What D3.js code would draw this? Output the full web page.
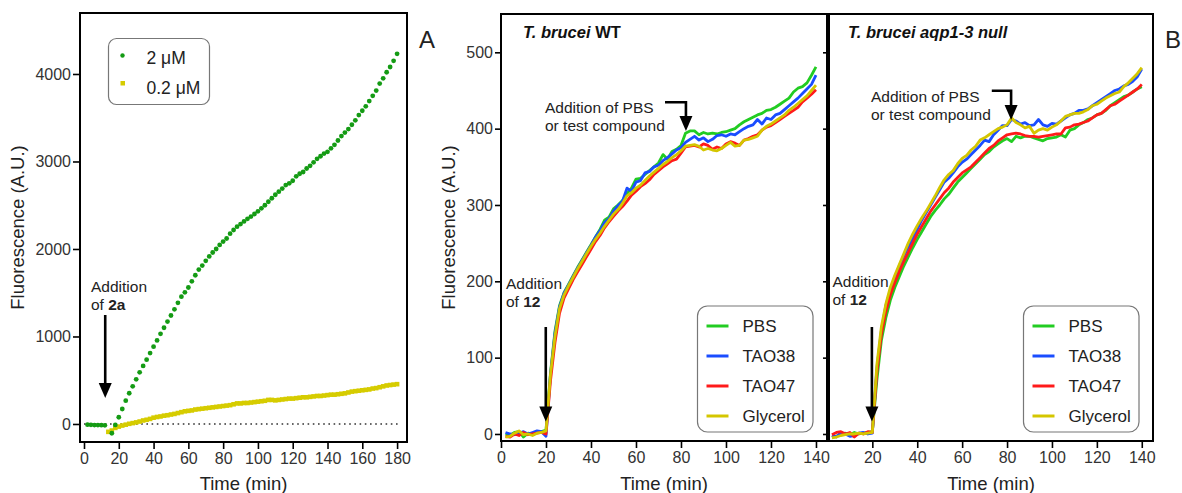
<!DOCTYPE html>
<html>
<head>
<meta charset="utf-8">
<script src="https://cdn.jsdelivr.net/npm/d3@7"></script>
<style>
  body { margin: 0; background: #fff; }
  svg { font-family: "Liberation Sans", Arial, Helvetica, sans-serif; font-weight: normal; }
</style>
</head>
<body>
<div id="chart"></div>
<script>
// ---- Panel A data : fluorescence of 2a at two concentrations ----
var timeA_2uM = [2, 4, 6, 8, 10, 12].concat(d3.range(16, 181, 2));
var fluo_2uM = [
  -8, -10, -12, -12, -14, -15,
  -106, -11, 77, 171, 266, 351, 430, 510, 590, 663,
  735, 810, 884, 955, 1030, 1100, 1170, 1240, 1310, 1385,
  1455, 1505, 1560, 1630, 1700, 1765, 1810, 1865, 1915, 1960,
  2000, 2046, 2085, 2120, 2175, 2217, 2255, 2285, 2315, 2345,
  2370, 2400, 2430, 2465, 2500, 2540, 2580, 2620, 2655, 2690,
  2730, 2750, 2780, 2830, 2860, 2880, 2920, 2950, 2990, 3030,
  3060, 3090, 3110, 3150, 3190, 3240, 3290, 3330, 3370, 3420,
  3470, 3530, 3580, 3630, 3690, 3750, 3810, 3890, 3950, 4020,
  4080, 4150, 4230
];
var timeA_02uM = d3.range(14, 181, 2);
var fluo_02uM = [
  -90, -75, -45, -30, -18, -8, 2, 10, 18, 28,
  40, 48, 58, 72, 80, 86, 95, 100, 108, 115,
  125, 135, 145, 150, 155, 165, 170, 175, 180, 185,
  190, 195, 200, 205, 210, 215, 225, 235, 235, 240,
  240, 245, 250, 255, 260, 265, 275, 275, 270, 275,
  280, 285, 290, 290, 295, 300, 305, 305, 310, 315,
  320, 320, 325, 330, 335, 335, 340, 345, 350, 360,
  370, 375, 380, 385, 390, 395, 405, 410, 420, 430,
  440, 445, 450, 455
];
var ticksA_x = [0, 20, 40, 60, 80, 100, 120, 140, 160, 180];
var ticksA_y = [0, 1000, 2000, 3000, 4000];

// ---- Panel B data : T. brucei WT and aqp1-3 null ----
var timeB = d3.range(2, 141, 2);
var seriesB = ["PBS", "TAO38", "TAO47", "Glycerol"];
var colorsB = ["#22cc22", "#1a4dff", "#ff1a1a", "#d4c600"];

var wt_PBS = [
  0, -2, 2, 3, -4, 1, 0, 2, 3, 5,
  80, 135, 168, 185, 196, 207, 218, 228, 238, 248,
  258, 268, 280, 284, 295, 300, 306, 315, 322, 334,
  335, 340, 345, 350, 355, 366, 360, 370, 373, 378,
  394, 397, 397, 392, 395, 393, 394, 393, 395, 396,
  398, 400, 405, 409, 412, 415, 418, 420, 424, 425,
  428, 432, 436, 440, 448, 453, 455, 460, 470, 481
];
var wt_TAO38 = [
  2, 0, -1, 1, 3, 0, 2, 4, 3, -3,
  78, 132, 166, 184, 195, 206, 217, 227, 237, 247,
  258, 266, 277, 282, 292, 299, 305, 322, 318, 330,
  332, 342, 344, 350, 352, 358, 362, 367, 372, 375,
  382, 386, 390, 385, 388, 383, 386, 391, 392, 390,
  393, 392, 396, 400, 403, 405, 412, 406, 414, 412,
  418, 420, 425, 430, 435, 440, 446, 452, 458, 470
];
var wt_TAO47 = [
  -3, -4, 0, -2, 2, -1, 0, 1, 2, 0,
  70, 120, 158, 178, 190, 202, 212, 222, 232, 242,
  252, 260, 270, 278, 285, 292, 298, 305, 313, 318,
  324, 328, 333, 340, 345, 350, 354, 358, 360, 368,
  376, 377, 378, 376, 380, 378, 373, 376, 374, 380,
  383, 381, 378, 385, 387, 390, 392, 398, 402, 404,
  408, 412, 416, 420, 424, 428, 435, 440, 445, 451
];
var wt_Glycerol = [
  -4, -3, 1, 4, -1, 0, -2, 1, 2, 4,
  78, 128, 164, 182, 194, 205, 216, 226, 236, 246,
  255, 263, 272, 280, 288, 294, 302, 312, 316, 322,
  326, 332, 338, 343, 348, 353, 357, 362, 366, 371,
  377, 378, 379, 377, 372, 374, 372, 371, 374, 378,
  382, 377, 378, 385, 386, 388, 390, 398, 403, 406,
  410, 414, 418, 424, 428, 433, 438, 443, 450, 457
];

var null_PBS = [
  -4, -3, 0, 1, -1, 2, 0, 1, 2, 3,
  70, 122, 152, 175, 192, 206, 220, 232, 244, 255,
  265, 275, 285, 293, 300, 308, 314, 322, 330, 336,
  342, 348, 354, 360, 366, 370, 376, 380, 384, 387,
  383, 390, 388, 390, 390, 388, 386, 384, 387, 388,
  389, 392, 389, 398, 400, 405, 408, 412, 414, 418,
  420, 424, 430, 434, 438, 442, 444, 448, 452, 455
];
var null_TAO38 = [
  -2, -4, 2, 0, -3, -2, 1, 2, 0, 1,
  85, 135, 168, 188, 205, 220, 233, 245, 256, 268,
  280, 290, 300, 310, 320, 330, 335, 342, 350, 356,
  360, 366, 372, 378, 385, 383, 392, 398, 404, 404,
  412, 410, 406, 408, 404, 405, 412, 405, 403, 407,
  406, 410, 414, 418, 420, 424, 424, 426, 430, 434,
  438, 442, 446, 450, 452, 456, 458, 462, 468, 478
];
var null_TAO47 = [
  -1, 2, 3, 0, 2, -4, 1, 0, 3, 2,
  80, 130, 160, 182, 198, 213, 226, 238, 250, 262,
  272, 282, 292, 300, 308, 316, 322, 330, 336, 342,
  346, 350, 356, 362, 368, 374, 378, 384, 388, 392,
  393, 394, 393, 391, 390, 390, 389, 390, 391, 392,
  393, 393, 401, 402, 405, 406, 408, 410, 414, 418,
  420, 425, 430, 432, 436, 440, 444, 448, 452, 458
];
var null_Glycerol = [
  -5, -4, -2, -1, 0, 0, 1, 0, 1, 2,
  90, 140, 170, 192, 208, 222, 236, 250, 262, 273,
  283, 292, 302, 312, 323, 333, 340, 345, 354, 361,
  365, 372, 377, 385, 388, 392, 396, 400, 402, 405,
  414, 408, 405, 401, 403, 394, 398, 400, 398, 402,
  405, 410, 416, 418, 420, 420, 422, 425, 430, 432,
  436, 440, 443, 446, 448, 455, 460, 466, 472, 480
];
var ticksB_x = [0, 20, 40, 60, 80, 100, 120, 140];
var ticksB_y = [0, 100, 200, 300, 400, 500];

// ---- SVG ----
var svg = d3.select("#chart").append("svg")
  .attr("width", 1182)
  .attr("height", 493);

// clean up a d3 axis so it looks like the original figure
function styleAxis(g) {
  g.select(".domain").remove();
  g.selectAll(".tick line").attr("stroke", "#000").attr("stroke-width", 1.6);
  g.selectAll(".tick text").attr("fill", "#333").style("font-size", "16px");
}

// filled arrow: polyline through pts, head pointing down at the last point
function arrow(g, pts) {
  var tip = pts[pts.length - 1];
  var shaft = pts.slice(0, -1).concat([[tip[0], tip[1] - 12]]);
  g.append("path")
    .attr("d", d3.line()(shaft))
    .attr("fill", "none")
    .attr("stroke", "#000")
    .attr("stroke-width", 2.6);
  g.append("path")
    .attr("d", "M" + (tip[0] - 6.5) + "," + (tip[1] - 15) + "L" + (tip[0] + 6.5) + "," + (tip[1] - 15) + "L" + tip[0] + "," + tip[1] + "Z")
    .attr("fill", "#000");
}

function twoLineText(g, x, y, first, second, boldPart) {
  var t1 = g.append("text").attr("x", x).attr("y", y)
    .style("font-size", "15.5px").attr("fill", "#222").text(first);
  var t2 = g.append("text").attr("x", x).attr("y", y + 18)
    .style("font-size", "15.5px").attr("fill", "#222");
  t2.append("tspan").text(second);
  if (boldPart) t2.append("tspan").style("font-weight", "bold").text(boldPart);
}

// ================= Panel A =================
var xA = d3.scaleLinear().domain([-2.3, 185.7]).range([80, 407]);
var yA = d3.scaleLinear().domain([-206, 4697]).range([442, 13]);

var gA = svg.append("g");

gA.append("g")
  .attr("transform", "translate(0,442)")
  .call(d3.axisBottom(xA).tickValues(ticksA_x).tickSize(7).tickPadding(4).tickSizeOuter(0))
  .call(styleAxis);

gA.append("g")
  .attr("transform", "translate(80,0)")
  .call(d3.axisLeft(yA).tickValues(ticksA_y).tickFormat(d3.format("d")).tickSize(7).tickPadding(2).tickSizeOuter(0))
  .call(styleAxis);

// dotted baseline at zero
gA.append("line")
  .attr("x1", xA(0)).attr("x2", xA(182))
  .attr("y1", yA(0)).attr("y2", yA(0))
  .attr("stroke", "#333").attr("stroke-width", 1.6)
  .attr("stroke-dasharray", "1.6,3.6");

// 0.2 uM : small yellow squares
gA.selectAll(".sq")
  .data(fluo_02uM)
  .enter().append("rect")
  .attr("class", "sq")
  .attr("x", function(d, i) { return xA(timeA_02uM[i]) - 2.3; })
  .attr("y", function(d) { return yA(d) - 2.3; })
  .attr("width", 4.6).attr("height", 4.6)
  .attr("fill", "#d6cc00");

// 2 uM : green dots
gA.selectAll(".dot")
  .data(fluo_2uM)
  .enter().append("circle")
  .attr("class", "dot")
  .attr("cx", function(d, i) { return xA(timeA_2uM[i]); })
  .attr("cy", function(d) { return yA(d); })
  .attr("r", 2.4)
  .attr("fill", "#149b14");

gA.append("rect")
  .attr("x", 80).attr("y", 13).attr("width", 327).attr("height", 429)
  .attr("fill", "none").attr("stroke", "#000").attr("stroke-width", 2);

// legend A
var legA = gA.append("g").attr("transform", "translate(108.5,38.5)");
legA.append("rect")
  .attr("width", 101).attr("height", 66).attr("rx", 8)
  .attr("fill", "#fff").attr("stroke", "#777").attr("stroke-width", 1.2);
legA.append("circle").attr("cx", 14).attr("cy", 17).attr("r", 2.2).attr("fill", "#149b14");
legA.append("rect").attr("x", 12).attr("y", 42.5).attr("width", 4.5).attr("height", 4.5).attr("fill", "#d6cc00");
legA.append("text").attr("x", 38).attr("y", 25.5).style("font-size", "17.5px").attr("fill", "#222").text("2 \u03bcM");
legA.append("text").attr("x", 38).attr("y", 55).style("font-size", "17.5px").attr("fill", "#222").text("0.2 \u03bcM");

twoLineText(gA, 91, 291.5, "Addition", "of ", "2a");
arrow(gA, [[xA(12.2), 315], [xA(12.2), 398]]);

gA.append("text")
  .attr("transform", "translate(18,227.5) rotate(-90)")
  .attr("text-anchor", "middle").attr("dy", "0.35em")
  .style("font-size", "18.5px").attr("fill", "#222")
  .text("Fluorescence (A.U.)");
gA.append("text")
  .attr("x", 243.5).attr("y", 489.5).attr("text-anchor", "middle")
  .style("font-size", "18.5px").attr("fill", "#222")
  .text("Time (min)");
gA.append("text").attr("x", 419).attr("y", 48).style("font-size", "24px").attr("fill", "#222").text("A");

// ================= Panel B =================
var yB = d3.scaleLinear().domain([-9.2, 550.2]).range([441, 14]);

var plotsB = [
  { left: 501, right: 827, domain: [0, 144.9], ticks: ticksB_x, labels: true,
    data: [wt_PBS, wt_TAO38, wt_TAO47, wt_Glycerol] },
  { left: 829, right: 1153, domain: [0.7, 145.0], ticks: ticksB_x.slice(1), labels: false,
    data: [null_PBS, null_TAO38, null_TAO47, null_Glycerol] }
];

plotsB.forEach(function(p) {
  var x = d3.scaleLinear().domain(p.domain).range([p.left, p.right]);
  p.x = x;
  var g = svg.append("g");
  p.g = g;

  g.append("g")
    .attr("transform", "translate(0,441)")
    .call(d3.axisBottom(x).tickValues(p.ticks).tickSize(7).tickPadding(4).tickSizeOuter(0))
    .call(styleAxis);

  var yAxis = d3.axisLeft(yB).tickValues(ticksB_y).tickSize(6).tickPadding(2).tickSizeOuter(0);
  if (!p.labels) yAxis.tickFormat("");
  g.append("g")
    .attr("transform", "translate(" + p.left + ",0)")
    .call(yAxis)
    .call(styleAxis);

  var line = d3.line()
    .x(function(d, i) { return x(timeB[i]); })
    .y(function(d) { return yB(d); });

  g.selectAll(".trace")
    .data(p.data)
    .enter().append("path")
    .attr("class", "trace")
    .attr("d", line)
    .attr("fill", "none")
    .attr("stroke", function(d, i) { return colorsB[i]; })
    .attr("stroke-width", 2.8)
    .attr("stroke-linejoin", "round");

  g.append("rect")
    .attr("x", p.left).attr("y", 14).attr("width", p.right - p.left).attr("height", 427)
    .attr("fill", "none").attr("stroke", "#000").attr("stroke-width", 2);

  // legend
  var leg = g.append("g").attr("transform", "translate(" + (p.right - 129.5) + ",306)");
  leg.append("rect")
    .attr("width", 115.5).attr("height", 126).attr("rx", 10)
    .attr("fill", "#fff").attr("stroke", "#777").attr("stroke-width", 1.2);
  var item = leg.selectAll(".item")
    .data(seriesB)
    .enter().append("g")
    .attr("transform", function(d, i) { return "translate(0," + (20 + i * 30) + ")"; });
  item.append("line")
    .attr("x1", 9).attr("x2", 31)
    .attr("stroke", function(d, i) { return colorsB[i]; })
    .attr("stroke-width", 3);
  item.append("text")
    .attr("x", 45).attr("dy", "0.36em")
    .style("font-size", "17px").attr("fill", "#222")
    .text(function(d) { return d; });

  g.append("text")
    .attr("x", (p.left + p.right) / 2).attr("y", 489.5).attr("text-anchor", "middle")
    .style("font-size", "18.5px").attr("fill", "#222")
    .text("Time (min)");
});

var pWT = plotsB[0], pNull = plotsB[1];

// titles
var tWT = pWT.g.append("text").attr("x", 523).attr("y", 38)
  .style("font-size", "16.5px").style("font-weight", "bold").attr("fill", "#111");
tWT.append("tspan").style("font-style", "italic").text("T. brucei");
tWT.append("tspan").text(" WT");
pNull.g.append("text").attr("x", 848).attr("y", 38)
  .style("font-size", "16.5px").style("font-weight", "bold").style("font-style", "italic")
  .attr("fill", "#111").text("T. brucei aqp1-3 null");

// annotations
twoLineText(pWT.g, 506, 288.5, "Addition", "of ", "12");
arrow(pWT.g, [[pWT.x(19.9), 327], [pWT.x(19.9), 421.5]]);
twoLineText(pWT.g, 545, 113, "Addition of PBS", "or test compound");
arrow(pWT.g, [[pWT.x(72.9), 102.3], [pWT.x(82.2), 102.3], [pWT.x(82.2), 131]]);

twoLineText(pNull.g, 832.5, 287, "Addition", "of ", "12");
arrow(pNull.g, [[pNull.x(19.8), 327], [pNull.x(19.8), 421.5]]);
twoLineText(pNull.g, 871, 101.5, "Addition of PBS", "or test compound");
arrow(pNull.g, [[pNull.x(73.2), 90.7], [pNull.x(81.8), 90.7], [pNull.x(81.8), 120]]);

svg.append("text")
  .attr("transform", "translate(449,227.5) rotate(-90)")
  .attr("text-anchor", "middle").attr("dy", "0.35em")
  .style("font-size", "18.5px").attr("fill", "#222")
  .text("Fluorescence (A.U.)");
svg.append("text").attr("x", 1165).attr("y", 48).style("font-size", "24px").attr("fill", "#222").text("B");
</script>
</body>
</html>
